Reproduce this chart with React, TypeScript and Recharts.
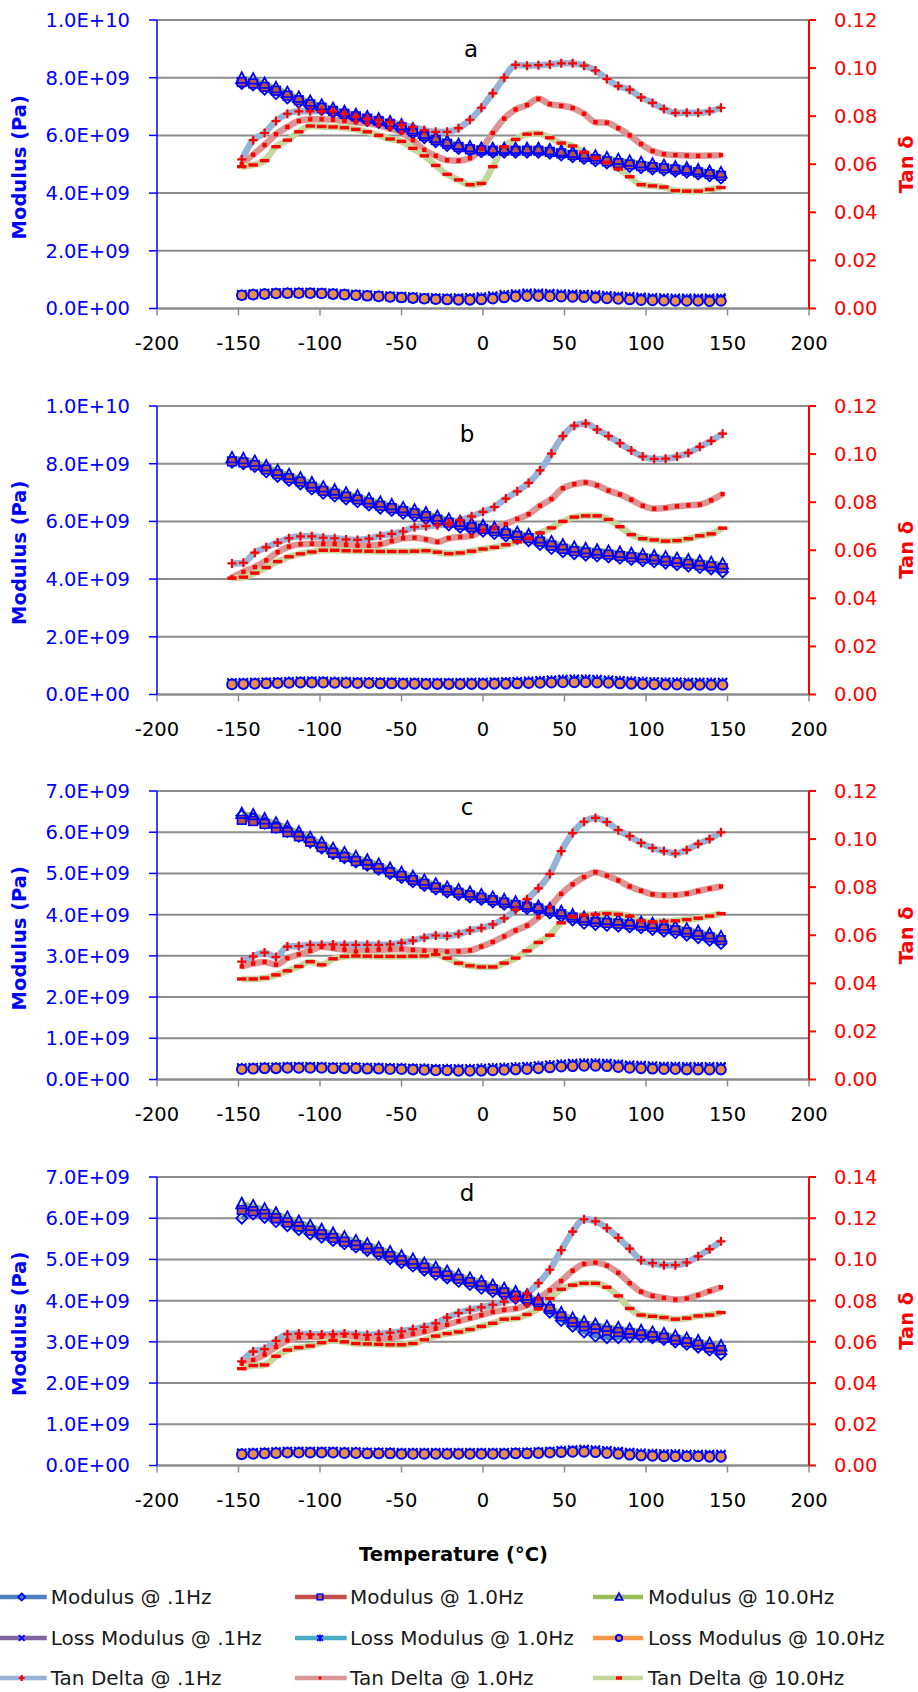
import React from 'react';
import { ComposedChart, Line, XAxis, YAxis, CartesianGrid } from 'recharts';

// temperatures (°C) of the readings
const TEMPS = [-148, -141, -134, -127, -120, -113, -106, -99, -92, -85, -78, -71, -64, -57, -50, -43, -36, -29, -22, -15, -8, -1, 6, 13, 20, 27, 34, 41, 48, 55, 62, 69, 76, 83, 90, 97, 104, 111, 118, 125, 132, 139, 146];
const TEMPS_B = [-154, -147, -140, -133, -126, -119, -112, -105, -98, -91, -84, -77, -70, -63, -56, -49, -42, -35, -28, -21, -14, -7, 0, 7, 14, 21, 28, 35, 42, 49, 56, 63, 70, 77, 84, 91, 98, 105, 112, 119, 126, 133, 140, 147];

// moduli are in units of 1E+09 Pa
// panel a
const A_MOD_01 = [7.8, 7.75, 7.6, 7.45, 7.3, 7.15, 7.0, 6.9, 6.8, 6.7, 6.6, 6.52, 6.45, 6.35, 6.22, 6.08, 5.92, 5.78, 5.65, 5.55, 5.48, 5.43, 5.42, 5.42, 5.42, 5.42, 5.42, 5.38, 5.32, 5.26, 5.2, 5.12, 5.04, 4.97, 4.92, 4.88, 4.84, 4.8, 4.76, 4.72, 4.66, 4.6, 4.52];
const A_MOD_1 = [7.85, 7.8, 7.68, 7.55, 7.38, 7.22, 7.08, 6.96, 6.85, 6.75, 6.66, 6.58, 6.5, 6.4, 6.28, 6.14, 5.98, 5.84, 5.71, 5.6, 5.52, 5.48, 5.47, 5.47, 5.47, 5.47, 5.47, 5.43, 5.38, 5.32, 5.26, 5.18, 5.1, 5.04, 4.99, 4.94, 4.9, 4.86, 4.82, 4.78, 4.72, 4.66, 4.6];
const A_MOD_10 = [7.98, 7.95, 7.8, 7.65, 7.48, 7.32, 7.18, 7.05, 6.93, 6.82, 6.72, 6.64, 6.56, 6.47, 6.36, 6.22, 6.06, 5.92, 5.79, 5.68, 5.6, 5.55, 5.54, 5.54, 5.54, 5.54, 5.54, 5.5, 5.45, 5.4, 5.35, 5.28, 5.22, 5.16, 5.1, 5.05, 5.0, 4.95, 4.9, 4.86, 4.8, 4.75, 4.7];
const A_LOSS_01 = [0.48, 0.5, 0.52, 0.54, 0.55, 0.56, 0.56, 0.55, 0.53, 0.51, 0.49, 0.47, 0.45, 0.43, 0.42, 0.4, 0.38, 0.37, 0.36, 0.37, 0.38, 0.4, 0.44, 0.48, 0.51, 0.53, 0.53, 0.52, 0.51, 0.5, 0.49, 0.47, 0.45, 0.43, 0.41, 0.39, 0.38, 0.37, 0.36, 0.36, 0.36, 0.36, 0.37];
const A_LOSS_1 = [0.47, 0.49, 0.51, 0.53, 0.54, 0.54, 0.54, 0.53, 0.51, 0.49, 0.47, 0.45, 0.43, 0.41, 0.39, 0.37, 0.35, 0.34, 0.33, 0.33, 0.34, 0.36, 0.4, 0.44, 0.47, 0.49, 0.49, 0.48, 0.47, 0.46, 0.45, 0.43, 0.41, 0.39, 0.37, 0.35, 0.34, 0.33, 0.32, 0.32, 0.32, 0.31, 0.32];
const A_LOSS_10 = [0.46, 0.48, 0.5, 0.52, 0.53, 0.53, 0.53, 0.52, 0.5, 0.48, 0.46, 0.44, 0.42, 0.4, 0.38, 0.36, 0.34, 0.32, 0.31, 0.3, 0.3, 0.31, 0.34, 0.38, 0.41, 0.43, 0.43, 0.42, 0.41, 0.4, 0.39, 0.37, 0.35, 0.33, 0.31, 0.29, 0.28, 0.27, 0.26, 0.26, 0.26, 0.25, 0.26];
const A_TAN_01 = [0.062, 0.07, 0.073, 0.078, 0.081, 0.082, 0.082, 0.082, 0.082, 0.081, 0.0798, 0.079, 0.0784, 0.0775, 0.0765, 0.0755, 0.0742, 0.0735, 0.0735, 0.075, 0.0785, 0.0835, 0.0895, 0.096, 0.1013, 0.101, 0.1012, 0.1015, 0.102, 0.102, 0.101, 0.099, 0.0955, 0.0925, 0.091, 0.0878, 0.0855, 0.083, 0.0814, 0.0814, 0.0814, 0.082, 0.0835];
const A_TAN_1 = [0.06, 0.064, 0.068, 0.0725, 0.0755, 0.078, 0.0787, 0.0787, 0.0785, 0.078, 0.0775, 0.077, 0.0763, 0.0748, 0.0732, 0.07, 0.066, 0.0635, 0.0617, 0.0615, 0.0625, 0.0665, 0.073, 0.079, 0.0828, 0.0846, 0.0872, 0.085, 0.0843, 0.0834, 0.081, 0.0775, 0.0773, 0.075, 0.072, 0.0684, 0.0655, 0.0642, 0.0638, 0.0636, 0.0635, 0.0636, 0.0638];
const A_TAN_10 = [0.059, 0.0597, 0.0615, 0.0673, 0.07, 0.0735, 0.0759, 0.0757, 0.0755, 0.0752, 0.0745, 0.0735, 0.072, 0.0705, 0.0695, 0.0666, 0.0635, 0.0595, 0.0558, 0.0535, 0.0515, 0.052, 0.059, 0.0673, 0.0703, 0.0725, 0.0728, 0.071, 0.0688, 0.0676, 0.065, 0.0627, 0.0608, 0.058, 0.0548, 0.0515, 0.051, 0.0505, 0.049, 0.0488, 0.0488, 0.0495, 0.0503];

// panel b
const B_MOD_01 = [8.05, 8.0, 7.9, 7.72, 7.56, 7.42, 7.3, 7.12, 6.98, 6.88, 6.78, 6.68, 6.57, 6.46, 6.38, 6.28, 6.2, 6.1, 5.98, 5.88, 5.8, 5.72, 5.66, 5.58, 5.5, 5.42, 5.33, 5.2, 5.06, 4.95, 4.88, 4.83, 4.8, 4.77, 4.72, 4.68, 4.64, 4.6, 4.55, 4.5, 4.45, 4.4, 4.35, 4.25];
const B_MOD_1 = [8.08, 8.04, 7.95, 7.8, 7.64, 7.5, 7.38, 7.2, 7.06, 6.96, 6.86, 6.76, 6.65, 6.54, 6.46, 6.36, 6.28, 6.18, 6.06, 5.96, 5.88, 5.8, 5.74, 5.66, 5.58, 5.5, 5.42, 5.3, 5.16, 5.05, 4.97, 4.92, 4.88, 4.85, 4.8, 4.76, 4.72, 4.68, 4.63, 4.58, 4.53, 4.48, 4.44, 4.38];
const B_MOD_10 = [8.2, 8.17, 8.08, 7.92, 7.76, 7.62, 7.5, 7.33, 7.19, 7.08, 6.98, 6.88, 6.77, 6.66, 6.57, 6.47, 6.39, 6.29, 6.17, 6.07, 5.99, 5.91, 5.85, 5.77, 5.69, 5.61, 5.53, 5.42, 5.29, 5.18, 5.1, 5.05, 5.0, 4.96, 4.92, 4.88, 4.84, 4.8, 4.76, 4.71, 4.66, 4.62, 4.57, 4.52];
const B_LOSS_01 = [0.4, 0.41, 0.42, 0.43, 0.44, 0.45, 0.46, 0.46, 0.46, 0.45, 0.45, 0.44, 0.44, 0.43, 0.43, 0.42, 0.42, 0.41, 0.41, 0.41, 0.41, 0.42, 0.42, 0.43, 0.44, 0.45, 0.46, 0.48, 0.5, 0.52, 0.53, 0.53, 0.52, 0.5, 0.48, 0.46, 0.45, 0.44, 0.43, 0.43, 0.42, 0.42, 0.42, 0.42];
const B_LOSS_1 = [0.38, 0.39, 0.4, 0.41, 0.42, 0.43, 0.44, 0.44, 0.44, 0.43, 0.43, 0.42, 0.42, 0.41, 0.41, 0.4, 0.4, 0.39, 0.39, 0.39, 0.39, 0.4, 0.4, 0.41, 0.42, 0.43, 0.44, 0.46, 0.48, 0.5, 0.51, 0.51, 0.5, 0.48, 0.46, 0.44, 0.43, 0.42, 0.41, 0.41, 0.4, 0.4, 0.4, 0.4];
const B_LOSS_10 = [0.35, 0.36, 0.37, 0.38, 0.39, 0.4, 0.41, 0.41, 0.41, 0.4, 0.4, 0.39, 0.39, 0.38, 0.38, 0.37, 0.37, 0.36, 0.36, 0.36, 0.36, 0.36, 0.36, 0.37, 0.37, 0.38, 0.39, 0.4, 0.41, 0.42, 0.42, 0.42, 0.41, 0.4, 0.38, 0.37, 0.36, 0.35, 0.34, 0.34, 0.33, 0.33, 0.33, 0.33];
const B_TAN_01 = [0.0545, 0.0548, 0.059, 0.0612, 0.0632, 0.065, 0.0658, 0.0658, 0.0652, 0.065, 0.0645, 0.0643, 0.0648, 0.066, 0.0668, 0.0678, 0.0696, 0.07, 0.0704, 0.0712, 0.0725, 0.0741, 0.076, 0.078, 0.0815, 0.0845, 0.088, 0.0932, 0.1002, 0.1075, 0.1118, 0.1127, 0.1102, 0.1075, 0.1045, 0.1015, 0.099, 0.098, 0.0981, 0.099, 0.1005, 0.103, 0.1055, 0.1085];
const B_TAN_1 = [0.0487, 0.051, 0.053, 0.0558, 0.0592, 0.0615, 0.0625, 0.0627, 0.0626, 0.0626, 0.0622, 0.0619, 0.0619, 0.0625, 0.0638, 0.065, 0.0652, 0.0645, 0.0635, 0.065, 0.0655, 0.066, 0.0682, 0.0694, 0.071, 0.073, 0.075, 0.0785, 0.0813, 0.0858, 0.0875, 0.0882, 0.087, 0.0848, 0.0832, 0.081, 0.0785, 0.0773, 0.0776, 0.0783, 0.0787, 0.079, 0.0808, 0.0834];
const B_TAN_10 = [0.0484, 0.0488, 0.0505, 0.0528, 0.0553, 0.0573, 0.0585, 0.0593, 0.06, 0.06, 0.0598, 0.0597, 0.0596, 0.0595, 0.0595, 0.0595, 0.0596, 0.0598, 0.0592, 0.0586, 0.0589, 0.0596, 0.0605, 0.0612, 0.0623, 0.0635, 0.065, 0.0672, 0.0693, 0.072, 0.0738, 0.0743, 0.0743, 0.0728, 0.0698, 0.0665, 0.0648, 0.0643, 0.0638, 0.064, 0.0648, 0.066, 0.0668, 0.0692];

// panel c
const C_MOD_01 = [6.4, 6.33, 6.22, 6.12, 6.02, 5.9, 5.76, 5.62, 5.48, 5.38, 5.28, 5.2, 5.1, 5.0, 4.9, 4.8, 4.71, 4.62, 4.55, 4.49, 4.43, 4.37, 4.31, 4.25, 4.19, 4.15, 4.11, 4.04, 3.96, 3.87, 3.79, 3.76, 3.74, 3.72, 3.7, 3.68, 3.64, 3.6, 3.56, 3.5, 3.44, 3.38, 3.3];
const C_MOD_1 = [6.3, 6.27, 6.2, 6.1, 6.0, 5.9, 5.77, 5.64, 5.5, 5.4, 5.3, 5.22, 5.13, 5.03, 4.94, 4.84, 4.75, 4.66, 4.59, 4.53, 4.47, 4.41, 4.35, 4.29, 4.23, 4.19, 4.15, 4.09, 4.01, 3.93, 3.86, 3.82, 3.8, 3.78, 3.76, 3.73, 3.7, 3.66, 3.62, 3.57, 3.51, 3.45, 3.38];
const C_MOD_10 = [6.45, 6.42, 6.32, 6.22, 6.12, 6.0, 5.87, 5.74, 5.6, 5.5, 5.4, 5.32, 5.22, 5.12, 5.02, 4.92, 4.83, 4.74, 4.66, 4.6, 4.54, 4.48, 4.42, 4.36, 4.3, 4.25, 4.2, 4.14, 4.07, 3.99, 3.93, 3.9, 3.88, 3.86, 3.84, 3.81, 3.78, 3.74, 3.7, 3.65, 3.59, 3.53, 3.46];
const C_LOSS_01 = [0.28, 0.29, 0.3, 0.3, 0.31, 0.31, 0.31, 0.31, 0.3, 0.3, 0.3, 0.29, 0.29, 0.28, 0.28, 0.27, 0.27, 0.26, 0.26, 0.26, 0.26, 0.27, 0.28, 0.29, 0.3, 0.31, 0.33, 0.35, 0.37, 0.39, 0.4, 0.4, 0.39, 0.37, 0.35, 0.34, 0.33, 0.32, 0.32, 0.31, 0.31, 0.31, 0.31];
const C_LOSS_1 = [0.27, 0.28, 0.29, 0.29, 0.3, 0.3, 0.3, 0.3, 0.29, 0.29, 0.29, 0.28, 0.28, 0.27, 0.27, 0.26, 0.26, 0.25, 0.25, 0.25, 0.25, 0.26, 0.27, 0.28, 0.29, 0.3, 0.32, 0.34, 0.36, 0.37, 0.38, 0.38, 0.37, 0.35, 0.33, 0.32, 0.31, 0.3, 0.3, 0.29, 0.29, 0.29, 0.29];
const C_LOSS_10 = [0.25, 0.26, 0.27, 0.27, 0.28, 0.28, 0.28, 0.28, 0.27, 0.27, 0.27, 0.26, 0.26, 0.25, 0.25, 0.24, 0.23, 0.22, 0.22, 0.21, 0.21, 0.21, 0.22, 0.23, 0.24, 0.25, 0.27, 0.29, 0.31, 0.32, 0.33, 0.33, 0.32, 0.3, 0.28, 0.27, 0.26, 0.25, 0.25, 0.24, 0.24, 0.24, 0.24];
const C_TAN_01 = [0.049, 0.0512, 0.0528, 0.051, 0.0553, 0.0555, 0.056, 0.056, 0.0562, 0.056, 0.056, 0.056, 0.056, 0.0562, 0.0568, 0.0578, 0.059, 0.0599, 0.0597, 0.0605, 0.062, 0.063, 0.0645, 0.067, 0.0705, 0.075, 0.0795, 0.0855, 0.095, 0.1025, 0.1072, 0.1088, 0.1071, 0.1037, 0.1012, 0.0984, 0.0963, 0.095, 0.094, 0.0955, 0.098, 0.1, 0.1028];
const C_TAN_1 = [0.047, 0.0482, 0.0489, 0.0478, 0.0505, 0.052, 0.0535, 0.0552, 0.0546, 0.054, 0.0532, 0.0537, 0.054, 0.0541, 0.0542, 0.0539, 0.0536, 0.0534, 0.0532, 0.0533, 0.0537, 0.0553, 0.0572, 0.0595, 0.062, 0.064, 0.0675, 0.0718, 0.0772, 0.0812, 0.0842, 0.0862, 0.0848, 0.0828, 0.0803, 0.0785, 0.077, 0.0766, 0.0767, 0.0773, 0.0784, 0.0794, 0.0803];
const C_TAN_10 = [0.0418, 0.0418, 0.0422, 0.0435, 0.0452, 0.047, 0.049, 0.0477, 0.0502, 0.0512, 0.0514, 0.0513, 0.0512, 0.0512, 0.0512, 0.0513, 0.0514, 0.052, 0.0505, 0.0484, 0.0473, 0.0468, 0.0468, 0.0484, 0.0505, 0.0535, 0.057, 0.06, 0.0652, 0.0678, 0.0684, 0.0687, 0.069, 0.0687, 0.068, 0.066, 0.0656, 0.0658, 0.066, 0.0665, 0.0671, 0.068, 0.069];

// panel d
const D_MOD_01 = [6.0, 6.1, 6.02, 5.92, 5.82, 5.72, 5.62, 5.54, 5.46, 5.38, 5.3, 5.22, 5.12, 5.02, 4.92, 4.84, 4.74, 4.64, 4.55, 4.47, 4.39, 4.3, 4.22, 4.14, 4.06, 3.98, 3.92, 3.72, 3.52, 3.38, 3.24, 3.14, 3.1, 3.1, 3.12, 3.12, 3.1, 3.06, 3.0, 2.94, 2.87, 2.8, 2.7];
const D_MOD_1 = [6.2, 6.17, 6.1, 6.0, 5.9, 5.8, 5.7, 5.61, 5.52, 5.43, 5.35, 5.27, 5.18, 5.08, 4.98, 4.9, 4.8, 4.7, 4.61, 4.53, 4.45, 4.37, 4.28, 4.2, 4.12, 4.05, 3.96, 3.8, 3.62, 3.48, 3.38, 3.32, 3.27, 3.24, 3.21, 3.18, 3.14, 3.1, 3.05, 2.99, 2.93, 2.86, 2.8];
const D_MOD_10 = [6.35, 6.3, 6.22, 6.12, 6.02, 5.92, 5.82, 5.72, 5.63, 5.54, 5.45, 5.37, 5.28, 5.18, 5.08, 5.0, 4.9, 4.8, 4.71, 4.62, 4.54, 4.46, 4.37, 4.29, 4.21, 4.13, 4.02, 3.86, 3.7, 3.57, 3.48, 3.42, 3.37, 3.34, 3.3, 3.27, 3.23, 3.19, 3.14, 3.08, 3.02, 2.96, 2.9];
const D_LOSS_01 = [0.3, 0.31, 0.32, 0.33, 0.34, 0.34, 0.34, 0.34, 0.34, 0.33, 0.33, 0.32, 0.32, 0.32, 0.31, 0.31, 0.31, 0.31, 0.31, 0.31, 0.31, 0.31, 0.31, 0.31, 0.32, 0.32, 0.33, 0.34, 0.36, 0.38, 0.39, 0.38, 0.36, 0.34, 0.32, 0.3, 0.29, 0.28, 0.28, 0.27, 0.27, 0.27, 0.27];
const D_LOSS_1 = [0.29, 0.3, 0.31, 0.32, 0.33, 0.33, 0.33, 0.33, 0.33, 0.32, 0.32, 0.31, 0.31, 0.31, 0.3, 0.3, 0.3, 0.3, 0.3, 0.3, 0.3, 0.3, 0.3, 0.3, 0.31, 0.31, 0.32, 0.33, 0.35, 0.36, 0.37, 0.36, 0.34, 0.32, 0.3, 0.28, 0.27, 0.26, 0.26, 0.25, 0.25, 0.25, 0.25];
const D_LOSS_10 = [0.27, 0.28, 0.29, 0.3, 0.31, 0.31, 0.31, 0.31, 0.31, 0.3, 0.3, 0.29, 0.29, 0.29, 0.28, 0.28, 0.28, 0.28, 0.28, 0.28, 0.28, 0.28, 0.28, 0.28, 0.29, 0.29, 0.3, 0.31, 0.32, 0.33, 0.33, 0.32, 0.3, 0.28, 0.26, 0.24, 0.23, 0.22, 0.22, 0.22, 0.22, 0.21, 0.21];
const D_TAN_01 = [0.0505, 0.0553, 0.0565, 0.0605, 0.0637, 0.064, 0.0636, 0.0636, 0.0638, 0.064, 0.0637, 0.0634, 0.0638, 0.0645, 0.0651, 0.0662, 0.0672, 0.069, 0.0718, 0.074, 0.0755, 0.0767, 0.078, 0.0795, 0.081, 0.0835, 0.0885, 0.095, 0.1045, 0.1135, 0.1195, 0.1185, 0.1152, 0.1105, 0.1052, 0.0996, 0.0982, 0.0972, 0.0972, 0.0985, 0.1015, 0.105, 0.1088];
const D_TAN_1 = [0.0495, 0.0512, 0.0538, 0.0575, 0.0607, 0.0622, 0.0625, 0.0625, 0.0627, 0.0632, 0.0625, 0.0616, 0.0612, 0.0618, 0.0627, 0.0638, 0.065, 0.0665, 0.0683, 0.07, 0.0715, 0.073, 0.0745, 0.0755, 0.0762, 0.0778, 0.081, 0.085, 0.0895, 0.0945, 0.0978, 0.0985, 0.097, 0.0935, 0.0885, 0.0843, 0.0823, 0.0813, 0.0805, 0.081, 0.0827, 0.0846, 0.0865];
const D_TAN_10 = [0.047, 0.0485, 0.0488, 0.053, 0.056, 0.0572, 0.058, 0.0596, 0.0607, 0.06, 0.0592, 0.059, 0.0588, 0.0586, 0.0586, 0.0592, 0.061, 0.0628, 0.064, 0.0648, 0.066, 0.0675, 0.069, 0.071, 0.0714, 0.0733, 0.076, 0.081, 0.0855, 0.0875, 0.0884, 0.0884, 0.0865, 0.0823, 0.0762, 0.073, 0.0724, 0.0718, 0.071, 0.0715, 0.0726, 0.073, 0.0742];

// axis ticks
const X_TICKS = [-200, -150, -100, -50, 0, 50, 100, 150, 200];
const MOD_TICKS_10 = [0, 2, 4, 6, 8, 10];
const MOD_TICKS_7 = [0, 1, 2, 3, 4, 5, 6, 7];
const TAN_TICKS_12 = [0, 0.02, 0.04, 0.06, 0.08, 0.1, 0.12];
const TAN_TICKS_14 = [0, 0.02, 0.04, 0.06, 0.08, 0.1, 0.12, 0.14];

const FONT = "'DejaVu Sans', sans-serif";
const BLUE = '#0000FF';
const RED = '#FF0000';
const GRID = '#8C8C8C';

const SERIES = [
  { key: 'mod01', name: 'Modulus @ .1Hz', color: '#4F81BD', axis: 'm', width: 4.5, marker: 'diamond' },
  { key: 'mod1', name: 'Modulus @ 1.0Hz', color: '#C0504D', axis: 'm', width: 4.5, marker: 'square' },
  { key: 'mod10', name: 'Modulus @ 10.0Hz', color: '#9BBB59', axis: 'm', width: 4.5, marker: 'triangle' },
  { key: 'loss01', name: 'Loss Modulus @ .1Hz', color: '#8064A2', axis: 'm', width: 4.5, marker: 'x' },
  { key: 'loss1', name: 'Loss Modulus @ 1.0Hz', color: '#4BACC6', axis: 'm', width: 4.5, marker: 'star' },
  { key: 'loss10', name: 'Loss Modulus @ 10.0Hz', color: '#F79646', axis: 'm', width: 4.5, marker: 'circle' },
  { key: 'tan01', name: 'Tan Delta @ .1Hz', color: '#95B3D7', axis: 't', width: 6.5, marker: 'plus' },
  { key: 'tan1', name: 'Tan Delta @ 1.0Hz', color: '#D99694', axis: 't', width: 6.5, marker: 'dot' },
  { key: 'tan10', name: 'Tan Delta @ 10.0Hz', color: '#C3D69B', axis: 't', width: 6.5, marker: 'dash' },
];

const PANELS = [
  { letter: 'a', top: 20, letterX: 471, letterDy: 37, modMax: 10, modTicks: MOD_TICKS_10, tanMax: 0.12, tanTicks: TAN_TICKS_12,
    temps: TEMPS, values: [A_MOD_01, A_MOD_1, A_MOD_10, A_LOSS_01, A_LOSS_1, A_LOSS_10, A_TAN_01, A_TAN_1, A_TAN_10] },
  { letter: 'b', top: 405.5, letterX: 467, letterDy: 36, modMax: 10, modTicks: MOD_TICKS_10, tanMax: 0.12, tanTicks: TAN_TICKS_12,
    temps: TEMPS_B, values: [B_MOD_01, B_MOD_1, B_MOD_10, B_LOSS_01, B_LOSS_1, B_LOSS_10, B_TAN_01, B_TAN_1, B_TAN_10] },
  { letter: 'c', top: 791, letterX: 467, letterDy: 24, modMax: 7, modTicks: MOD_TICKS_7, tanMax: 0.12, tanTicks: TAN_TICKS_12,
    temps: TEMPS, values: [C_MOD_01, C_MOD_1, C_MOD_10, C_LOSS_01, C_LOSS_1, C_LOSS_10, C_TAN_01, C_TAN_1, C_TAN_10] },
  { letter: 'd', top: 1176.5, letterX: 467, letterDy: 24, modMax: 7, modTicks: MOD_TICKS_7, tanMax: 0.14, tanTicks: TAN_TICKS_14,
    temps: TEMPS, values: [D_MOD_01, D_MOD_1, D_MOD_10, D_LOSS_01, D_LOSS_1, D_LOSS_10, D_TAN_01, D_TAN_1, D_TAN_10] },
];

const PLOT_H = 288.5;
const PAD_TOP = 10;
const X_AXIS_H = 50;

// 8.0E+09 style labels for values given in GPa
const fmtModulus = (v: number) => {
  if (v === 0) return '0.0E+00';
  const pa = v * 1e9;
  const exp = Math.floor(Math.log10(pa) + 1e-9);
  const mant = pa / Math.pow(10, exp);
  return `${mant.toFixed(1)}E+${String(exp).padStart(2, '0')}`;
};

const Marker = ({ kind, cx, cy, s = 1 }: { kind: string; cx: number; cy: number; s?: number }) => {
  switch (kind) {
    case 'diamond':
      return <path d={`M${cx},${cy - 5.5 * s}L${cx + 5.5 * s},${cy}L${cx},${cy + 5.5 * s}L${cx - 5.5 * s},${cy}Z`} fill="none" stroke={BLUE} strokeWidth={1.8} />;
    case 'square':
      return <rect x={cx - 4.3 * s} y={cy - 4.3 * s} width={8.6 * s} height={8.6 * s} fill={s < 1 ? 'none' : '#B9574F'} stroke={BLUE} strokeWidth={1.6} />;
    case 'triangle':
      return <path d={`M${cx},${cy - 6 * s}L${cx + 5.5 * s},${cy + 4.5 * s}L${cx - 5.5 * s},${cy + 4.5 * s}Z`} fill="none" stroke={BLUE} strokeWidth={1.8} />;
    case 'x':
      return <path d={`M${cx - 4.5 * s},${cy - 4.5 * s}L${cx + 4.5 * s},${cy + 4.5 * s}M${cx + 4.5 * s},${cy - 4.5 * s}L${cx - 4.5 * s},${cy + 4.5 * s}`} stroke={BLUE} strokeWidth={1.8} />;
    case 'star':
      return <path d={`M${cx - 4.5 * s},${cy - 4.5 * s}L${cx + 4.5 * s},${cy + 4.5 * s}M${cx + 4.5 * s},${cy - 4.5 * s}L${cx - 4.5 * s},${cy + 4.5 * s}M${cx},${cy - 5.5 * s}L${cx},${cy + 5.5 * s}`} stroke={BLUE} strokeWidth={1.8} />;
    case 'circle':
      return <circle cx={cx} cy={cy} r={4.8 * s} fill="#E88F45" stroke={BLUE} strokeWidth={2} />;
    case 'plus':
      return <path d={`M${cx - 4.5 * s},${cy}L${cx + 4.5 * s},${cy}M${cx},${cy - 4.5 * s}L${cx},${cy + 4.5 * s}`} stroke={RED} strokeWidth={2.2} />;
    case 'dot':
      return <rect x={cx - 2.2 * s} y={cy - 2.2 * s} width={4.4 * s} height={4.4 * s} fill={RED} />;
    case 'dash':
      return <rect x={cx - 4.7 * s} y={cy - 1.7} width={9.4 * s} height={3.4} fill={RED} />;
    default:
      return null;
  }
};

const renderDot = (kind: string) => (props: any) => {
  const { cx, cy, index } = props;
  if (cx == null || cy == null || isNaN(cy)) return <g key={`k${index}`} />;
  return <Marker key={`k${index}`} kind={kind} cx={cx} cy={cy} />;
};

const Panel = ({ panel }: { panel: typeof PANELS[number] }) => {
  const rows = panel.temps.map((t, i) => {
    const row: Record<string, number> = { t };
    SERIES.forEach((s, j) => {
      row[s.key] = panel.values[j][i];
    });
    return row;
  });
  return (
    <div style={{ position: 'absolute', left: 0, top: panel.top - PAD_TOP }}>
      <ComposedChart width={918} height={PAD_TOP + PLOT_H + X_AXIS_H} data={rows} margin={{ top: PAD_TOP, right: 0, bottom: 0, left: 0 }}>
        <CartesianGrid yAxisId="m" vertical={false} stroke={GRID} strokeWidth={2} />
        <XAxis
          dataKey="t"
          type="number"
          domain={[-200, 200]}
          ticks={X_TICKS}
          interval={0}
          height={X_AXIS_H}
          axisLine={{ stroke: GRID, strokeWidth: 2 }}
          tickLine={{ stroke: GRID, strokeWidth: 1.5 }}
          tickSize={7}
          tickMargin={21}
          tick={{ fill: '#000', fontSize: 19.5, fontFamily: FONT }}
        />
        <YAxis
          yAxisId="m"
          domain={[0, panel.modMax]}
          ticks={panel.modTicks}
          interval={0}
          allowDataOverflow
          width={157}
          tickFormatter={fmtModulus}
          axisLine={{ stroke: BLUE, strokeWidth: 1.5 }}
          tickLine={{ stroke: BLUE, strokeWidth: 1.5 }}
          tickSize={8}
          tickMargin={19}
          tick={{ fill: BLUE, fontSize: 19.5, fontFamily: FONT }}
        />
        <YAxis
          yAxisId="t"
          orientation="right"
          domain={[0, panel.tanMax]}
          ticks={panel.tanTicks}
          interval={0}
          allowDataOverflow
          width={109}
          tickFormatter={(v: number) => v.toFixed(2)}
          axisLine={{ stroke: RED, strokeWidth: 2 }}
          tickLine={{ stroke: RED, strokeWidth: 2 }}
          tickSize={7}
          tickMargin={18}
          tick={{ fill: RED, fontSize: 19.5, fontFamily: FONT }}
        />
        {SERIES.map((s) => (
          <Line
            key={s.key}
            yAxisId={s.axis}
            dataKey={s.key}
            type="monotone"
            stroke={s.color}
            strokeWidth={s.width}
            dot={renderDot(s.marker)}
            activeDot={false}
            isAnimationActive={false}
            connectNulls
          />
        ))}
      </ComposedChart>
    </div>
  );
};

const LEGEND_COLS = [
  { x1: 0, x2: 46.7, mx: 21.7, tx: 50.7 },
  { x1: 295, x2: 346.7, mx: 320, tx: 350 },
  { x1: 593, x2: 643, mx: 619, tx: 648 },
];
const LEGEND_BASELINES = [1604, 1645, 1685];

export default function App() {
  return (
    <div style={{ position: 'absolute', left: 0, top: 0, width: 918, height: 1692, background: '#fff', overflow: 'hidden' }}>
      {PANELS.map((p) => (
        <Panel key={p.letter} panel={p} />
      ))}
      <svg width={918} height={1692} style={{ position: 'absolute', left: 0, top: 0, pointerEvents: 'none' }}>
        {PANELS.map((p) => {
          const mid = p.top + PLOT_H / 2;
          return (
            <g key={p.letter}>
              <text x={p.letterX} y={p.top + p.letterDy} textAnchor="middle" fontFamily={FONT} fontSize={23} fill="#000">
                {p.letter}
              </text>
              <text transform={`translate(26,${mid + 3}) rotate(-90)`} textAnchor="middle" fontFamily={FONT} fontWeight="bold" fontSize={19.5} fill={BLUE}>
                Modulus  (Pa)
              </text>
              <text transform={`translate(913,${mid}) rotate(-90)`} textAnchor="middle" fontFamily={FONT} fontWeight="bold" fontSize={19.5} fill={RED}>
                Tan δ
              </text>
            </g>
          );
        })}
        <text x={453.5} y={1561} textAnchor="middle" fontFamily={FONT} fontWeight="bold" fontSize={19.5} fill="#000">
          Temperature (°C)
        </text>
        {SERIES.map((s, i) => {
          const col = LEGEND_COLS[i % 3];
          const base = LEGEND_BASELINES[Math.floor(i / 3)];
          const cy = base - 7;
          return (
            <g key={s.key}>
              <line x1={col.x1} y1={cy} x2={col.x2} y2={cy} stroke={s.color} strokeWidth={4.3} />
              <Marker kind={s.marker} cx={col.mx} cy={cy} s={0.65} />
              <text x={col.tx} y={base} fontFamily={FONT} fontSize={20} fill="#1a1a1a">
                {s.name}
              </text>
            </g>
          );
        })}
      </svg>
    </div>
  );
}
